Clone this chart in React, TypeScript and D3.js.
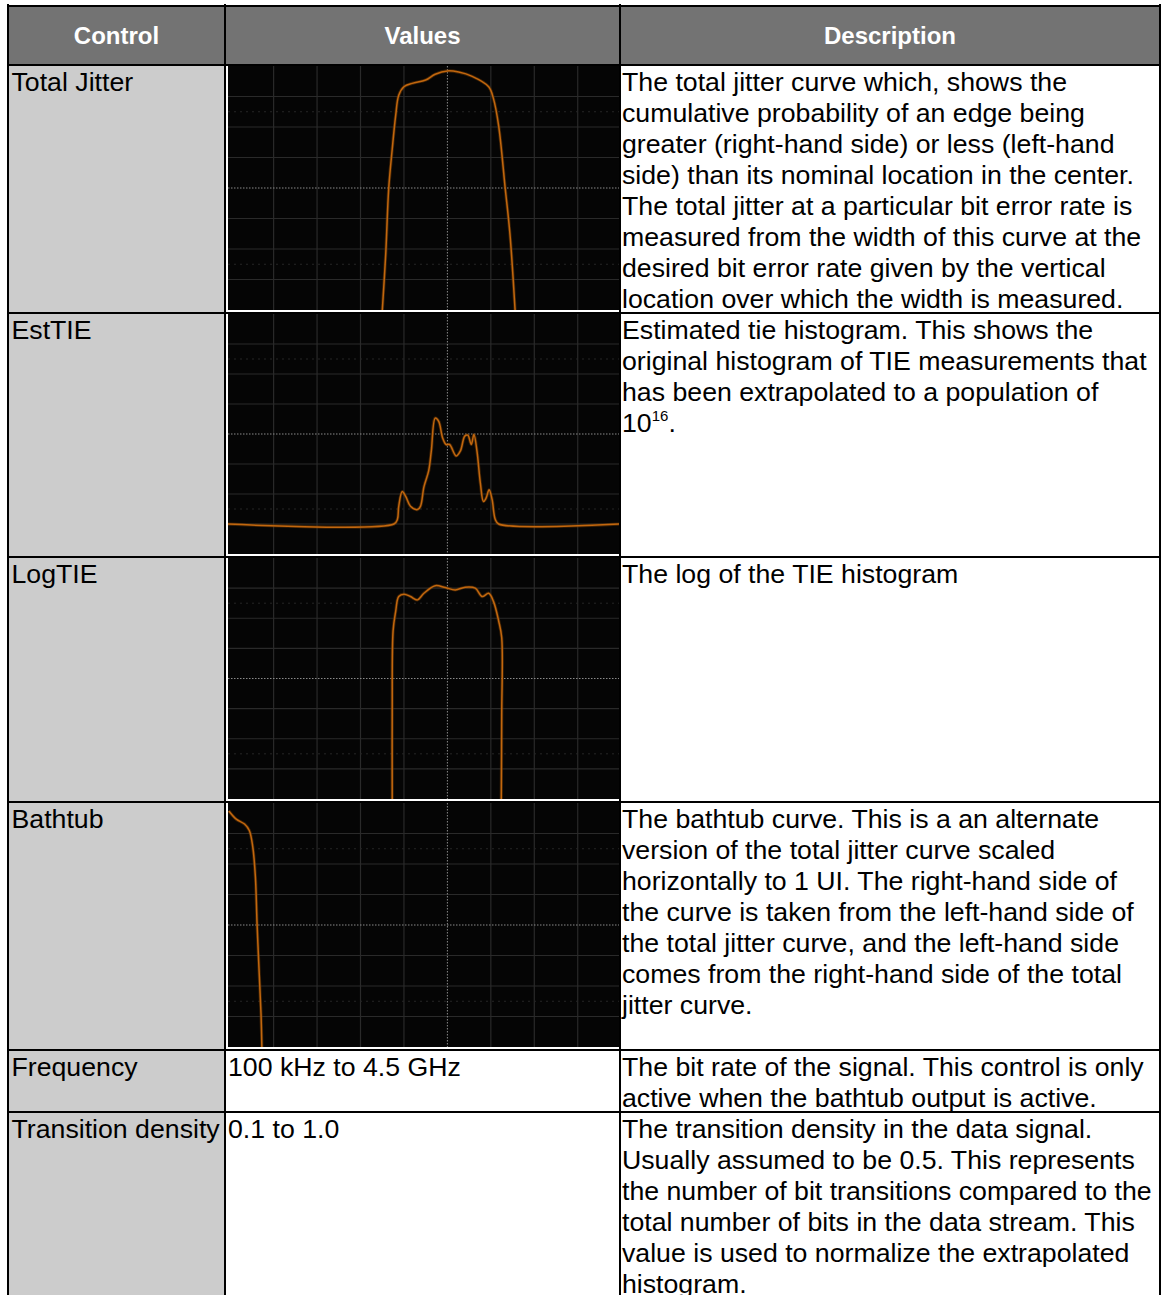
import React from 'react';
import * as d3 from 'd3';

// ---------- data ----------
const controls = ['Total Jitter', 'EstTIE', 'LogTIE', 'Bathtub', 'Frequency', 'Transition density'];
const valueTexts: (string | null)[] = [null, null, null, null, '100 kHz to 4.5 GHz', '0.1 to 1.0'];
const headers = ['Control', 'Values', 'Description'];

const descTotalJitter = [
  'The total jitter curve which, shows the',
  'cumulative probability of an edge being',
  'greater (right-hand side) or less (left-hand',
  'side) than its nominal location in the center.',
  'The total jitter at a particular bit error rate is',
  'measured from the width of this curve at the',
  'desired bit error rate given by the vertical',
  'location over which the width is measured.',
];
const descEstTIE = [
  'Estimated tie histogram. This shows the',
  'original histogram of TIE measurements that',
  'has been extrapolated to a population of',
];
const descEstTIEPower = { base: '10', exp: '16', tail: '.' };
const descLogTIE = ['The log of the TIE histogram'];
const descBathtub = [
  'The bathtub curve. This is a an alternate',
  'version of the total jitter curve scaled',
  'horizontally to 1 UI. The right-hand side of',
  'the curve is taken from the left-hand side of',
  'the total jitter curve, and the left-hand side',
  'comes from the right-hand side of the total',
  'jitter curve.',
];
const descFrequency = [
  'The bit rate of the signal. This control is only',
  'active when the bathtub output is active.',
];
const descTransition = [
  'The transition density in the data signal.',
  'Usually assumed to be 0.5. This represents',
  'the number of bit transitions compared to the',
  'total number of bits in the data stream. This',
  'value is used to normalize the extrapolated',
  'histogram.',
];

// traces in screen divisions (x: -5..4, y: -4..4, 0 = centre)
const totalJitterTrace: [number, number][] = [
  [-1.5, -4.05], [-1.42, -2.18], [-1.35, 0], [-1.27, 1.27], [-1.19, 2.38], [-1.12, 3.04],
  [-1.0, 3.32], [-0.81, 3.43], [-0.5, 3.54], [-0.28, 3.73], [0, 3.84], [0.26, 3.8],
  [0.57, 3.66], [0.95, 3.32], [1.06, 2.93], [1.18, 2.04], [1.33, 0], [1.44, -1.51], [1.56, -4.05],
];
const estTieTrace: [number, number][] = [
  [-5.1, -3.0], [-1.23, -3.0], [-1.15, -2.84], [-1.12, -2.41], [-1.04, -1.92], [-0.96, -2.08],
  [-0.85, -2.41], [-0.69, -2.52], [-0.62, -2.41], [-0.54, -1.76], [-0.43, -1.22], [-0.37, -0.56],
  [-0.28, 0.53], [-0.2, 0.42], [-0.11, -0.13], [-0.03, -0.35], [0.05, -0.35], [0.2, -0.73],
  [0.3, -0.56], [0.4, -0.07], [0.47, -0.04], [0.55, -0.35], [0.61, -0.02], [0.68, -0.56],
  [0.76, -1.65], [0.83, -2.25], [0.89, -2.14], [0.96, -1.86], [1.03, -2.19], [1.1, -2.84],
  [1.18, -3.0], [4.0, -3.0],
];
const logTieTrace: [number, number][] = [
  [-1.27, -4.05], [-1.27, -1.14], [-1.25, 1.58], [-1.19, 2.23], [-1.12, 2.72], [-1.0, 2.8],
  [-0.85, 2.72], [-0.69, 2.61], [-0.54, 2.83], [-0.28, 3.08], [-0.05, 3.02], [0.18, 2.94],
  [0.41, 3.03], [0.64, 3.0], [0.8, 2.72], [0.95, 2.83], [1.06, 2.56], [1.18, 1.91],
  [1.25, 1.36], [1.25, -1.25], [1.24, -4.05],
];
const bathtubTrace: [number, number][] = [
  [-5.03, 3.74], [-4.86, 3.47], [-4.67, 3.31], [-4.56, 3.1], [-4.48, 2.56], [-4.42, 1.59],
  [-4.38, 0], [-4.33, -1.63], [-4.29, -2.92], [-4.27, -4.05],
];

// ---------- layout ----------
const W = 1167;
const H = 1295;
const X0 = 8;
const X1 = 225;
const X2 = 620;
const X3 = 1160;
const HEAD_TOP = 6;
const HEAD_BOT = 65;
const rowHeights = [248, 244, 245, 248, 62, 186];
const LINE = 31;
const FONT = 'Arial, "Liberation Sans", Helvetica, sans-serif';
const FS = 26.7;

const rowTops: number[] = [];
{
  let y = HEAD_BOT;
  rowHeights.forEach((h) => {
    rowTops.push(y);
    y += h;
  });
}

const traces = [totalJitterTrace, estTieTrace, logTieTrace, bathtubTrace];
const descs = [descTotalJitter, descEstTIE, descLogTIE, descBathtub, descFrequency, descTransition];

function Scope({ idx }: { idx: number }) {
  const top = rowTops[idx] + 1;
  const bottom = rowTops[idx] + rowHeights[idx] - 3;
  const left = 228;
  const right = 619;
  const x = d3.scaleLinear().domain([-5.05, 3.95]).range([left, right]);
  const y = d3.scaleLinear().domain([-4, 4]).range([bottom, top]);
  const line = d3
    .line<[number, number]>()
    .x((d) => x(d[0]))
    .y((d) => y(d[1]))
    .curve(d3.curveCatmullRom.alpha(0.5));
  const clipId = `clip-${idx}`;
  const xs = d3.range(-4, 4);
  const ys = d3.range(-3, 4);
  return (
    <g>
      <defs>
        <clipPath id={clipId}>
          <rect x={left} y={top} width={right - left} height={bottom - top} />
        </clipPath>
      </defs>
      <rect x={left} y={top} width={right - left} height={bottom - top} fill="#050505" />
      <g clipPath={`url(#${clipId})`}>
        {xs.filter((v) => v !== 0).map((v) => (
          <line key={'vx' + v} x1={x(v)} x2={x(v)} y1={top} y2={bottom} stroke="#2a2a2a" strokeWidth={1.2} />
        ))}
        {ys.filter((v) => v !== 0).map((v) => (
          <line key={'hy' + v} x1={left} x2={right} y1={y(v)} y2={y(v)} stroke="#2a2a2a" strokeWidth={1.2} />
        ))}
        {[-2.5, 2.5].map((v) => (
          <line key={'fy' + v} x1={left} x2={right} y1={y(v)} y2={y(v)} stroke="#262626" strokeWidth={1} strokeDasharray="2 4" />
        ))}
        <line x1={x(0)} x2={x(0)} y1={top} y2={bottom} stroke="#8a8a8a" strokeWidth={1} strokeDasharray="1.5 1.5" />
        <line x1={left} x2={right} y1={y(0)} y2={y(0)} stroke="#8a8a8a" strokeWidth={1} strokeDasharray="1.5 1.5" />
        <path d={line(traces[idx]) || ''} fill="none" stroke="#6b3806" strokeWidth={3.2} strokeOpacity={0.55} />
        <path d={line(traces[idx]) || ''} fill="none" stroke="#c2670e" strokeWidth={1.5} />
      </g>
    </g>
  );
}

export default function App() {
  const totalBottom = H + 10;
  const textStyle = { fontFamily: FONT, fontSize: FS, fill: '#000' } as const;
  return (
    <svg
      width={W}
      height={H}
      viewBox={`0 0 ${W} ${H}`}
      style={{ position: 'absolute', left: 0, top: 0, display: 'block', background: '#fff' }}
    >
      <rect x={0} y={0} width={W} height={H} fill="#fff" />
      {/* header */}
      <rect x={X0} y={HEAD_TOP} width={X3 - X0} height={HEAD_BOT - HEAD_TOP} fill="#737373" />
      {/* label column */}
      <rect x={X0} y={HEAD_BOT} width={X1 - X0} height={totalBottom - HEAD_BOT} fill="#cccccc" />

      {/* borders */}
      <g stroke="#000" strokeWidth={2}>
        <line x1={X0 - 1} x2={X3 + 1} y1={HEAD_TOP} y2={HEAD_TOP} />
        <line x1={X0} x2={X0} y1={HEAD_TOP - 2} y2={totalBottom} />
        <line x1={X1} x2={X1} y1={HEAD_TOP - 2} y2={totalBottom} />
        <line x1={X2} x2={X2} y1={HEAD_TOP - 2} y2={totalBottom} />
        <line x1={X3} x2={X3} y1={HEAD_TOP - 2} y2={totalBottom} />
        <line x1={X0} x2={X3} y1={HEAD_BOT} y2={HEAD_BOT} />
        {rowTops.slice(1).map((t, i) => (
          <line key={i} x1={X0} x2={X3} y1={t} y2={t} />
        ))}
      </g>

      {/* header text */}
      {headers.map((h, i) => {
        const cx = [(X0 + X1) / 2, (X1 + X2) / 2, (X2 + X3) / 2][i];
        return (
          <text
            key={h}
            x={cx}
            y={44}
            textAnchor="middle"
            style={{ fontFamily: FONT, fontSize: 24, fontWeight: 700, fill: '#fff' }}
          >
            {h}
          </text>
        );
      })}

      {/* scopes */}
      {[0, 1, 2, 3].map((i) => (
        <Scope key={i} idx={i} />
      ))}

      {/* labels and values */}
      {controls.map((c, i) => (
        <text key={c} x={11.5} y={rowTops[i] + 25.5} style={textStyle}>
          {c}
        </text>
      ))}
      {valueTexts.map((v, i) =>
        v ? (
          <text key={'v' + i} x={228} y={rowTops[i] + 25.5} style={textStyle}>
            {v}
          </text>
        ) : null
      )}

      {/* descriptions */}
      {descs.map((lines, i) => (
        <g key={'d' + i}>
          {lines.map((l, j) => (
            <text key={j} x={622} y={rowTops[i] + 25.5 + j * LINE} style={textStyle}>
              {l}
            </text>
          ))}
          {i === 1 ? (
            <text x={622} y={rowTops[i] + 25.5 + lines.length * LINE} style={textStyle}>
              <tspan>{descEstTIEPower.base}</tspan>
              <tspan dy={-11} style={{ fontSize: 15 }}>
                {descEstTIEPower.exp}
              </tspan>
              <tspan dy={11}>{descEstTIEPower.tail}</tspan>
            </text>
          ) : null}
        </g>
      ))}
    </svg>
  );
}
